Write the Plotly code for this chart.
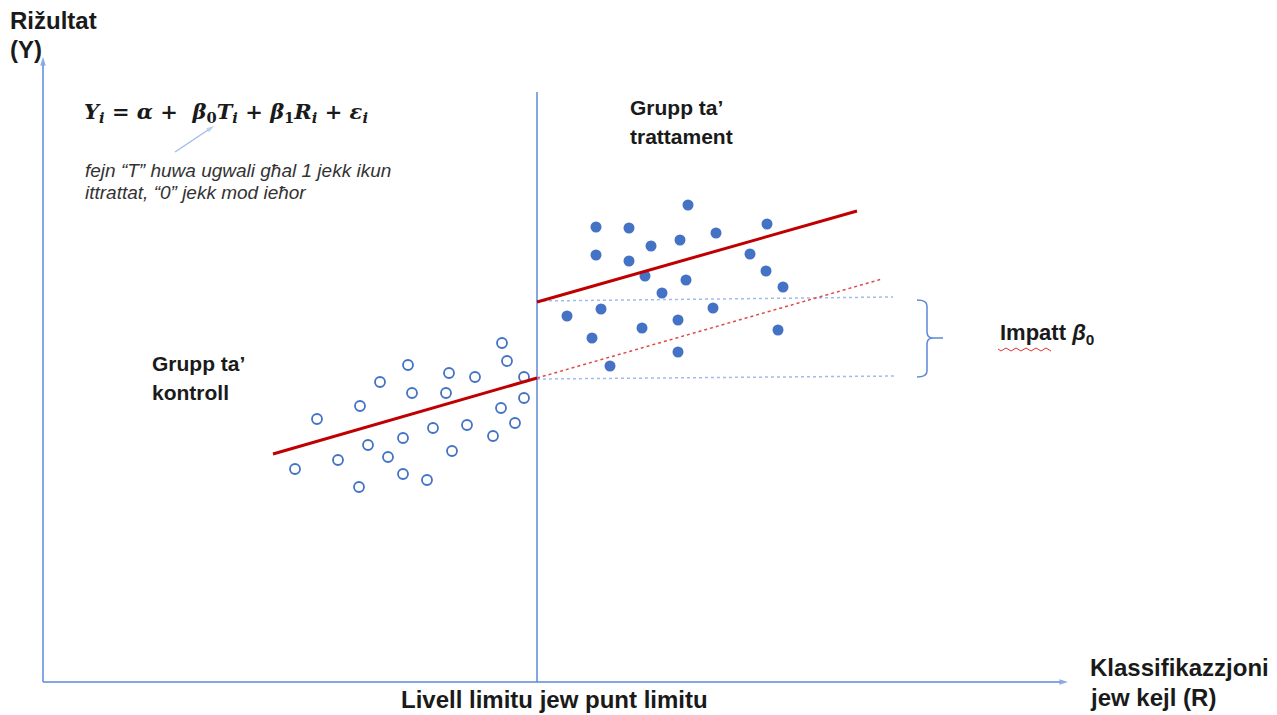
import plotly.graph_objects as go

# ---- data (diagram units = screen pixels, y grows downward) ----
control_x = [295, 317, 338, 359, 360, 368, 380, 388, 403, 403, 408, 412, 427, 433,
             446, 449, 452, 467, 475, 493, 501, 502, 507, 515, 524, 524]
control_y = [469, 419, 460, 487, 406, 445, 382, 457, 438, 474, 365, 393, 480, 428,
             393, 373, 451, 425, 377, 436, 408, 343, 361, 423, 377, 398]

treated_x = [596, 629, 688, 767, 716, 680, 651, 596, 629, 750, 645, 686, 766, 783,
             662, 567, 601, 713, 678, 642, 592, 778, 678, 610]
treated_y = [227, 228, 205, 224, 233, 240, 246, 255, 261, 254, 276, 280, 271, 287,
             293, 316, 309, 308, 320, 328, 338, 330, 352, 366]

control_fit_x = [273, 537]
control_fit_y = [454, 378]
treated_fit_x = [537, 857]
treated_fit_y = [302, 211]
counterfactual_x = [537, 882]
counterfactual_y = [378, 279]
upper_ref_x = [537, 893]
upper_ref_y = [301, 297]
lower_ref_x = [537, 897]
lower_ref_y = [379, 376]

cutoff_x = 537
y_axis_x = [43, 43]
y_axis_y = [682, 57]
x_axis_x = [43, 1068]
x_axis_y = [682, 682]
pointer_x = [175, 214]
pointer_y = [152, 126]

BLUE = "#4472C4"
AXBLUE = "#5B88D8"
RED = "#C00000"
LIGHTBLUE = "#9FBCEB"
FONT = "Liberation Sans"

fig = go.Figure()


def arrow_line(xs, ys, color, width, head):
    fig.add_trace(go.Scatter(
        x=xs, y=ys, mode="lines+markers",
        line=dict(color=color, width=width),
        marker=dict(symbol="arrow", size=[0, head], color=color, angleref="previous",
                    line=dict(width=0)),
        hoverinfo="skip"))


# reference dotted lines
fig.add_trace(go.Scatter(x=upper_ref_x, y=upper_ref_y, mode="lines",
                         line=dict(color=LIGHTBLUE, width=1.5, dash="dot"), hoverinfo="skip"))
fig.add_trace(go.Scatter(x=lower_ref_x, y=lower_ref_y, mode="lines",
                         line=dict(color=LIGHTBLUE, width=1.5, dash="dot"), hoverinfo="skip"))
# counterfactual extension
fig.add_trace(go.Scatter(x=counterfactual_x, y=counterfactual_y, mode="lines",
                         line=dict(color="#E0494A", width=1.5, dash="dot"), hoverinfo="skip"))
# cutoff vertical line
fig.add_trace(go.Scatter(x=[cutoff_x, cutoff_x], y=[92, x_axis_y[0]], mode="lines",
                         line=dict(color=AXBLUE, width=1.5), hoverinfo="skip"))
# axes with arrow heads
arrow_line(y_axis_x, y_axis_y, AXBLUE, 1.5, 9)
arrow_line(x_axis_x, x_axis_y, AXBLUE, 1.5, 9)
arrow_line(pointer_x, pointer_y, LIGHTBLUE, 1.3, 8)

# points
fig.add_trace(go.Scatter(x=control_x, y=control_y, mode="markers",
                         marker=dict(symbol="circle-open", size=10, color=BLUE,
                                     line=dict(width=1.8, color=BLUE)), hoverinfo="skip"))
fig.add_trace(go.Scatter(x=treated_x, y=treated_y, mode="markers",
                         marker=dict(symbol="circle", size=11, color=BLUE), hoverinfo="skip"))

# fit lines
fig.add_trace(go.Scatter(x=control_fit_x, y=control_fit_y, mode="lines",
                         line=dict(color=RED, width=3), hoverinfo="skip"))
fig.add_trace(go.Scatter(x=treated_fit_x, y=treated_fit_y, mode="lines",
                         line=dict(color=RED, width=3), hoverinfo="skip"))

# bracket
fig.add_shape(type="path",
              path="M 917 300 Q 927 300 927 306 L 927 332 Q 927 338 933 338 L 943 338 "
                   "M 933 338 Q 927 338 927 344 L 927 371 Q 927 377 917 377",
              line=dict(color=AXBLUE, width=1.5), xref="x", yref="y")
# spell-check squiggle under "Impatt"
squig = "M 998 349"
for i in range(11):
    squig += f" L {1001 + i*5} {351 if i % 2 == 0 else 348}"
fig.add_shape(type="path", path=squig, line=dict(color="#E03030", width=1), xref="x", yref="y")

anns = []


def txt(x, y, s, size=21, bold=True, color="#1a1a1a", family=FONT, xanchor="left", italic=False):
    t = s
    if italic:
        t = f"<i>{t}</i>"
    if bold:
        t = f"<b>{t}</b>"
    anns.append(dict(x=x, y=y, xref="x", yref="y", text=t, showarrow=False,
                     xanchor=xanchor, yanchor="middle", align="left",
                     font=dict(size=size, color=color, family=family)))


txt(8, 20, "Rižultat", size=24)
txt(8, 49, "(Y)", size=24)
txt(82, 112, "<i>Y</i><sub><i>i</i></sub> = <i>α</i> +  <i>β</i><sub>0</sub><i>T</i><sub><i>i</i></sub> + "
             "<i>β</i><sub>1</sub><i>R</i><sub><i>i</i></sub> + <i>ε</i><sub><i>i</i></sub>",
    size=21, family="DejaVu Serif")
txt(83, 170, "fejn “T” huwa ugwali għal 1 jekk ikun", size=19, bold=False, italic=True, color="#333333")
txt(83, 192, "ittrattat, “0” jekk mod ieħor", size=19, bold=False, italic=True, color="#333333")
txt(628, 107, "Grupp ta’")
txt(628, 136, "trattament")
txt(150, 363, "Grupp ta’")
txt(150, 392, "kontroll")
txt(998, 334, "Impatt <i>β</i><sub>0</sub>", size=22)
txt(554, 699, "Livell limitu jew punt limitu", size=24, xanchor="center")
txt(1088, 667, "Klassifikazzjoni", size=24)
txt(1088, 697, "jew kejl (R)", size=24)

# the page body has an 8px margin: size the figure so diagram units equal screen pixels
fig.update_layout(
    width=1269, height=707,
    margin=dict(l=0, r=0, t=0, b=0),
    paper_bgcolor="white", plot_bgcolor="white",
    showlegend=False,
    xaxis=dict(range=[8, 1277], visible=False, fixedrange=True),
    yaxis=dict(range=[715, 8], visible=False, fixedrange=True),
    annotations=anns,
)

fig.write_html("out.html")
